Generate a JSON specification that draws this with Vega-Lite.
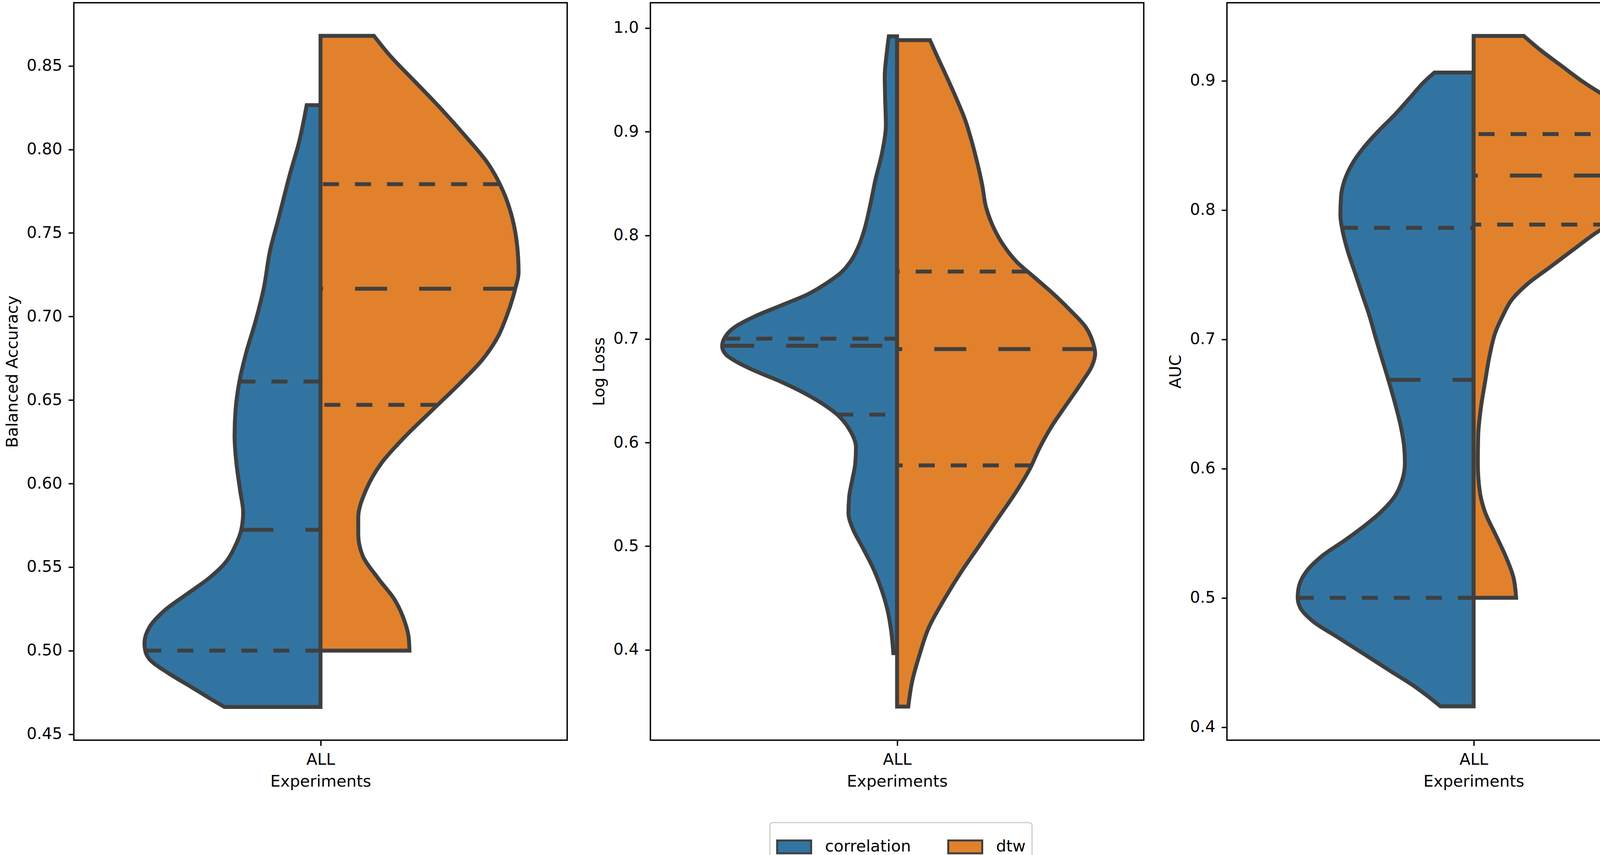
{
  "$schema": "https://vega.github.io/schema/vega-lite/v6.json",
  "background": "white",
  "autosize": {"type": "pad"},
  "padding": {"left": 9, "top": 5, "right": 2, "bottom": 2},
  "datasets": {
    "violins": [
      {"metric": "ba", "group": "correlation", "v": 0.4663, "w": -0.1947},
      {"metric": "ba", "group": "correlation", "v": 0.4702, "w": -0.2174},
      {"metric": "ba", "group": "correlation", "v": 0.4784, "w": -0.2629},
      {"metric": "ba", "group": "correlation", "v": 0.4865, "w": -0.3083},
      {"metric": "ba", "group": "correlation", "v": 0.4947, "w": -0.3462},
      {"metric": "ba", "group": "correlation", "v": 0.5000, "w": -0.3553},
      {"metric": "ba", "group": "correlation", "v": 0.5045, "w": -0.3568},
      {"metric": "ba", "group": "correlation", "v": 0.5143, "w": -0.3462},
      {"metric": "ba", "group": "correlation", "v": 0.5241, "w": -0.3159},
      {"metric": "ba", "group": "correlation", "v": 0.5339, "w": -0.2705},
      {"metric": "ba", "group": "correlation", "v": 0.5436, "w": -0.2250},
      {"metric": "ba", "group": "correlation", "v": 0.5534, "w": -0.1909},
      {"metric": "ba", "group": "correlation", "v": 0.5632, "w": -0.1720},
      {"metric": "ba", "group": "correlation", "v": 0.5723, "w": -0.1606},
      {"metric": "ba", "group": "correlation", "v": 0.5828, "w": -0.1568},
      {"metric": "ba", "group": "correlation", "v": 0.5958, "w": -0.1629},
      {"metric": "ba", "group": "correlation", "v": 0.6122, "w": -0.1705},
      {"metric": "ba", "group": "correlation", "v": 0.6285, "w": -0.1742},
      {"metric": "ba", "group": "correlation", "v": 0.6448, "w": -0.1720},
      {"metric": "ba", "group": "correlation", "v": 0.6611, "w": -0.1644},
      {"metric": "ba", "group": "correlation", "v": 0.6774, "w": -0.1515},
      {"metric": "ba", "group": "correlation", "v": 0.6970, "w": -0.1318},
      {"metric": "ba", "group": "correlation", "v": 0.7166, "w": -0.1152},
      {"metric": "ba", "group": "correlation", "v": 0.7394, "w": -0.1023},
      {"metric": "ba", "group": "correlation", "v": 0.7590, "w": -0.0848},
      {"metric": "ba", "group": "correlation", "v": 0.7851, "w": -0.0621},
      {"metric": "ba", "group": "correlation", "v": 0.8047, "w": -0.0432},
      {"metric": "ba", "group": "correlation", "v": 0.8265, "w": -0.0280},
      {"metric": "ba", "group": "dtw", "v": 0.5000, "w": 0.1803},
      {"metric": "ba", "group": "dtw", "v": 0.5078, "w": 0.1788},
      {"metric": "ba", "group": "dtw", "v": 0.5175, "w": 0.1705},
      {"metric": "ba", "group": "dtw", "v": 0.5306, "w": 0.1500},
      {"metric": "ba", "group": "dtw", "v": 0.5436, "w": 0.1159},
      {"metric": "ba", "group": "dtw", "v": 0.5567, "w": 0.0856},
      {"metric": "ba", "group": "dtw", "v": 0.5697, "w": 0.0765},
      {"metric": "ba", "group": "dtw", "v": 0.5795, "w": 0.0765},
      {"metric": "ba", "group": "dtw", "v": 0.5958, "w": 0.0917},
      {"metric": "ba", "group": "dtw", "v": 0.6122, "w": 0.1235},
      {"metric": "ba", "group": "dtw", "v": 0.6285, "w": 0.1727},
      {"metric": "ba", "group": "dtw", "v": 0.6448, "w": 0.2295},
      {"metric": "ba", "group": "dtw", "v": 0.6611, "w": 0.2864},
      {"metric": "ba", "group": "dtw", "v": 0.6741, "w": 0.3280},
      {"metric": "ba", "group": "dtw", "v": 0.6872, "w": 0.3583},
      {"metric": "ba", "group": "dtw", "v": 0.7002, "w": 0.3773},
      {"metric": "ba", "group": "dtw", "v": 0.7166, "w": 0.3947},
      {"metric": "ba", "group": "dtw", "v": 0.7263, "w": 0.4015},
      {"metric": "ba", "group": "dtw", "v": 0.7427, "w": 0.3985},
      {"metric": "ba", "group": "dtw", "v": 0.7590, "w": 0.3886},
      {"metric": "ba", "group": "dtw", "v": 0.7753, "w": 0.3697},
      {"metric": "ba", "group": "dtw", "v": 0.7916, "w": 0.3394},
      {"metric": "ba", "group": "dtw", "v": 0.8079, "w": 0.2939},
      {"metric": "ba", "group": "dtw", "v": 0.8242, "w": 0.2447},
      {"metric": "ba", "group": "dtw", "v": 0.8405, "w": 0.1917},
      {"metric": "ba", "group": "dtw", "v": 0.8569, "w": 0.1386},
      {"metric": "ba", "group": "dtw", "v": 0.8680, "w": 0.1083},
      {"metric": "ll", "group": "correlation", "v": 0.3968, "w": -0.0076},
      {"metric": "ll", "group": "correlation", "v": 0.4163, "w": -0.0114},
      {"metric": "ll", "group": "correlation", "v": 0.4374, "w": -0.0189},
      {"metric": "ll", "group": "correlation", "v": 0.4585, "w": -0.0318},
      {"metric": "ll", "group": "correlation", "v": 0.4795, "w": -0.0492},
      {"metric": "ll", "group": "correlation", "v": 0.5006, "w": -0.0720},
      {"metric": "ll", "group": "correlation", "v": 0.5164, "w": -0.0894},
      {"metric": "ll", "group": "correlation", "v": 0.5322, "w": -0.0985},
      {"metric": "ll", "group": "correlation", "v": 0.5480, "w": -0.0970},
      {"metric": "ll", "group": "correlation", "v": 0.5638, "w": -0.0909},
      {"metric": "ll", "group": "correlation", "v": 0.5796, "w": -0.0848},
      {"metric": "ll", "group": "correlation", "v": 0.5954, "w": -0.0833},
      {"metric": "ll", "group": "correlation", "v": 0.6112, "w": -0.0947},
      {"metric": "ll", "group": "correlation", "v": 0.6270, "w": -0.1212},
      {"metric": "ll", "group": "correlation", "v": 0.6376, "w": -0.1515},
      {"metric": "ll", "group": "correlation", "v": 0.6481, "w": -0.1894},
      {"metric": "ll", "group": "correlation", "v": 0.6586, "w": -0.2348},
      {"metric": "ll", "group": "correlation", "v": 0.6692, "w": -0.2879},
      {"metric": "ll", "group": "correlation", "v": 0.6771, "w": -0.3220},
      {"metric": "ll", "group": "correlation", "v": 0.6850, "w": -0.3470},
      {"metric": "ll", "group": "correlation", "v": 0.6929, "w": -0.3545},
      {"metric": "ll", "group": "correlation", "v": 0.7008, "w": -0.3500},
      {"metric": "ll", "group": "correlation", "v": 0.7113, "w": -0.3295},
      {"metric": "ll", "group": "correlation", "v": 0.7219, "w": -0.2879},
      {"metric": "ll", "group": "correlation", "v": 0.7324, "w": -0.2348},
      {"metric": "ll", "group": "correlation", "v": 0.7429, "w": -0.1818},
      {"metric": "ll", "group": "correlation", "v": 0.7535, "w": -0.1439},
      {"metric": "ll", "group": "correlation", "v": 0.7640, "w": -0.1136},
      {"metric": "ll", "group": "correlation", "v": 0.7745, "w": -0.0947},
      {"metric": "ll", "group": "correlation", "v": 0.7903, "w": -0.0773},
      {"metric": "ll", "group": "correlation", "v": 0.8061, "w": -0.0659},
      {"metric": "ll", "group": "correlation", "v": 0.8272, "w": -0.0553},
      {"metric": "ll", "group": "correlation", "v": 0.8536, "w": -0.0439},
      {"metric": "ll", "group": "correlation", "v": 0.8799, "w": -0.0303},
      {"metric": "ll", "group": "correlation", "v": 0.9062, "w": -0.0227},
      {"metric": "ll", "group": "correlation", "v": 0.9326, "w": -0.0242},
      {"metric": "ll", "group": "correlation", "v": 0.9536, "w": -0.0250},
      {"metric": "ll", "group": "correlation", "v": 0.9747, "w": -0.0212},
      {"metric": "ll", "group": "correlation", "v": 0.9921, "w": -0.0167},
      {"metric": "ll", "group": "dtw", "v": 0.3452, "w": 0.0227},
      {"metric": "ll", "group": "dtw", "v": 0.3689, "w": 0.0303},
      {"metric": "ll", "group": "dtw", "v": 0.3952, "w": 0.0455},
      {"metric": "ll", "group": "dtw", "v": 0.4216, "w": 0.0644},
      {"metric": "ll", "group": "dtw", "v": 0.4479, "w": 0.0947},
      {"metric": "ll", "group": "dtw", "v": 0.4743, "w": 0.1288},
      {"metric": "ll", "group": "dtw", "v": 0.5006, "w": 0.1667},
      {"metric": "ll", "group": "dtw", "v": 0.5269, "w": 0.2045},
      {"metric": "ll", "group": "dtw", "v": 0.5533, "w": 0.2424},
      {"metric": "ll", "group": "dtw", "v": 0.5744, "w": 0.2689},
      {"metric": "ll", "group": "dtw", "v": 0.5954, "w": 0.2894},
      {"metric": "ll", "group": "dtw", "v": 0.6165, "w": 0.3144},
      {"metric": "ll", "group": "dtw", "v": 0.6376, "w": 0.3447},
      {"metric": "ll", "group": "dtw", "v": 0.6586, "w": 0.3750},
      {"metric": "ll", "group": "dtw", "v": 0.6744, "w": 0.3955},
      {"metric": "ll", "group": "dtw", "v": 0.6860, "w": 0.4015},
      {"metric": "ll", "group": "dtw", "v": 0.6955, "w": 0.3977},
      {"metric": "ll", "group": "dtw", "v": 0.7113, "w": 0.3826},
      {"metric": "ll", "group": "dtw", "v": 0.7271, "w": 0.3523},
      {"metric": "ll", "group": "dtw", "v": 0.7429, "w": 0.3182},
      {"metric": "ll", "group": "dtw", "v": 0.7587, "w": 0.2803},
      {"metric": "ll", "group": "dtw", "v": 0.7745, "w": 0.2424},
      {"metric": "ll", "group": "dtw", "v": 0.7903, "w": 0.2159},
      {"metric": "ll", "group": "dtw", "v": 0.8061, "w": 0.1970},
      {"metric": "ll", "group": "dtw", "v": 0.8272, "w": 0.1803},
      {"metric": "ll", "group": "dtw", "v": 0.8483, "w": 0.1727},
      {"metric": "ll", "group": "dtw", "v": 0.8694, "w": 0.1629},
      {"metric": "ll", "group": "dtw", "v": 0.8904, "w": 0.1515},
      {"metric": "ll", "group": "dtw", "v": 0.9115, "w": 0.1379},
      {"metric": "ll", "group": "dtw", "v": 0.9326, "w": 0.1197},
      {"metric": "ll", "group": "dtw", "v": 0.9536, "w": 0.1000},
      {"metric": "ll", "group": "dtw", "v": 0.9747, "w": 0.0795},
      {"metric": "ll", "group": "dtw", "v": 0.9884, "w": 0.0667},
      {"metric": "auc", "group": "correlation", "v": 0.4160, "w": -0.0669},
      {"metric": "auc", "group": "correlation", "v": 0.4228, "w": -0.0891},
      {"metric": "auc", "group": "correlation", "v": 0.4312, "w": -0.1186},
      {"metric": "auc", "group": "correlation", "v": 0.4438, "w": -0.1704},
      {"metric": "auc", "group": "correlation", "v": 0.4565, "w": -0.2221},
      {"metric": "auc", "group": "correlation", "v": 0.4691, "w": -0.2738},
      {"metric": "auc", "group": "correlation", "v": 0.4818, "w": -0.3256},
      {"metric": "auc", "group": "correlation", "v": 0.4923, "w": -0.3514},
      {"metric": "auc", "group": "correlation", "v": 0.5000, "w": -0.3566},
      {"metric": "auc", "group": "correlation", "v": 0.5071, "w": -0.3551},
      {"metric": "auc", "group": "correlation", "v": 0.5197, "w": -0.3404},
      {"metric": "auc", "group": "correlation", "v": 0.5324, "w": -0.3071},
      {"metric": "auc", "group": "correlation", "v": 0.5450, "w": -0.2591},
      {"metric": "auc", "group": "correlation", "v": 0.5577, "w": -0.2147},
      {"metric": "auc", "group": "correlation", "v": 0.5661, "w": -0.1888},
      {"metric": "auc", "group": "correlation", "v": 0.5788, "w": -0.1593},
      {"metric": "auc", "group": "correlation", "v": 0.5914, "w": -0.1445},
      {"metric": "auc", "group": "correlation", "v": 0.6040, "w": -0.1393},
      {"metric": "auc", "group": "correlation", "v": 0.6167, "w": -0.1408},
      {"metric": "auc", "group": "correlation", "v": 0.6336, "w": -0.1482},
      {"metric": "auc", "group": "correlation", "v": 0.6504, "w": -0.1593},
      {"metric": "auc", "group": "correlation", "v": 0.6673, "w": -0.1718},
      {"metric": "auc", "group": "correlation", "v": 0.6841, "w": -0.1851},
      {"metric": "auc", "group": "correlation", "v": 0.7010, "w": -0.1984},
      {"metric": "auc", "group": "correlation", "v": 0.7179, "w": -0.2110},
      {"metric": "auc", "group": "correlation", "v": 0.7347, "w": -0.2258},
      {"metric": "auc", "group": "correlation", "v": 0.7516, "w": -0.2406},
      {"metric": "auc", "group": "correlation", "v": 0.7685, "w": -0.2554},
      {"metric": "auc", "group": "correlation", "v": 0.7853, "w": -0.2664},
      {"metric": "auc", "group": "correlation", "v": 0.7959, "w": -0.2701},
      {"metric": "auc", "group": "correlation", "v": 0.8106, "w": -0.2687},
      {"metric": "auc", "group": "correlation", "v": 0.8233, "w": -0.2613},
      {"metric": "auc", "group": "correlation", "v": 0.8359, "w": -0.2458},
      {"metric": "auc", "group": "correlation", "v": 0.8486, "w": -0.2221},
      {"metric": "auc", "group": "correlation", "v": 0.8612, "w": -0.1925},
      {"metric": "auc", "group": "correlation", "v": 0.8739, "w": -0.1593},
      {"metric": "auc", "group": "correlation", "v": 0.8865, "w": -0.1297},
      {"metric": "auc", "group": "correlation", "v": 0.8992, "w": -0.1001},
      {"metric": "auc", "group": "correlation", "v": 0.9063, "w": -0.0795},
      {"metric": "auc", "group": "dtw", "v": 0.5000, "w": 0.0861},
      {"metric": "auc", "group": "dtw", "v": 0.5155, "w": 0.0809},
      {"metric": "auc", "group": "dtw", "v": 0.5324, "w": 0.0647},
      {"metric": "auc", "group": "dtw", "v": 0.5492, "w": 0.0440},
      {"metric": "auc", "group": "dtw", "v": 0.5661, "w": 0.0233},
      {"metric": "auc", "group": "dtw", "v": 0.5830, "w": 0.0122},
      {"metric": "auc", "group": "dtw", "v": 0.6040, "w": 0.0085},
      {"metric": "auc", "group": "dtw", "v": 0.6251, "w": 0.0092},
      {"metric": "auc", "group": "dtw", "v": 0.6462, "w": 0.0144},
      {"metric": "auc", "group": "dtw", "v": 0.6673, "w": 0.0233},
      {"metric": "auc", "group": "dtw", "v": 0.6884, "w": 0.0329},
      {"metric": "auc", "group": "dtw", "v": 0.7052, "w": 0.0440},
      {"metric": "auc", "group": "dtw", "v": 0.7179, "w": 0.0588},
      {"metric": "auc", "group": "dtw", "v": 0.7305, "w": 0.0772},
      {"metric": "auc", "group": "dtw", "v": 0.7432, "w": 0.1105},
      {"metric": "auc", "group": "dtw", "v": 0.7558, "w": 0.1548},
      {"metric": "auc", "group": "dtw", "v": 0.7685, "w": 0.1992},
      {"metric": "auc", "group": "dtw", "v": 0.7811, "w": 0.2435},
      {"metric": "auc", "group": "dtw", "v": 0.7938, "w": 0.2953},
      {"metric": "auc", "group": "dtw", "v": 0.8064, "w": 0.3396},
      {"metric": "auc", "group": "dtw", "v": 0.8191, "w": 0.3803},
      {"metric": "auc", "group": "dtw", "v": 0.8275, "w": 0.3987},
      {"metric": "auc", "group": "dtw", "v": 0.8359, "w": 0.4024},
      {"metric": "auc", "group": "dtw", "v": 0.8486, "w": 0.3899},
      {"metric": "auc", "group": "dtw", "v": 0.8612, "w": 0.3618},
      {"metric": "auc", "group": "dtw", "v": 0.8739, "w": 0.3211},
      {"metric": "auc", "group": "dtw", "v": 0.8865, "w": 0.2731},
      {"metric": "auc", "group": "dtw", "v": 0.8992, "w": 0.2214},
      {"metric": "auc", "group": "dtw", "v": 0.9118, "w": 0.1770},
      {"metric": "auc", "group": "dtw", "v": 0.9245, "w": 0.1327},
      {"metric": "auc", "group": "dtw", "v": 0.9346, "w": 0.1016}
    ],
    "quartiles": [
      {"metric": "ba", "group": "correlation", "stat": "q1", "v": 0.5000, "w": -0.3553},
      {"metric": "ba", "group": "correlation", "stat": "median", "v": 0.5723, "w": -0.1606},
      {"metric": "ba", "group": "correlation", "stat": "q3", "v": 0.6611, "w": -0.1644},
      {"metric": "ba", "group": "dtw", "stat": "q1", "v": 0.6471, "w": 0.235},
      {"metric": "ba", "group": "dtw", "stat": "median", "v": 0.7166, "w": 0.3947},
      {"metric": "ba", "group": "dtw", "stat": "q3", "v": 0.7792, "w": 0.362},
      {"metric": "ll", "group": "correlation", "stat": "q1", "v": 0.6270, "w": -0.1212},
      {"metric": "ll", "group": "correlation", "stat": "median", "v": 0.6934, "w": -0.3545},
      {"metric": "ll", "group": "correlation", "stat": "q3", "v": 0.7003, "w": -0.3503},
      {"metric": "ll", "group": "dtw", "stat": "q1", "v": 0.5780, "w": 0.271},
      {"metric": "ll", "group": "dtw", "stat": "median", "v": 0.6902, "w": 0.400},
      {"metric": "ll", "group": "dtw", "stat": "q3", "v": 0.7651, "w": 0.265},
      {"metric": "auc", "group": "correlation", "stat": "q1", "v": 0.5000, "w": -0.3566},
      {"metric": "auc", "group": "correlation", "stat": "median", "v": 0.6686, "w": -0.1728},
      {"metric": "auc", "group": "correlation", "stat": "q3", "v": 0.7862, "w": -0.2668},
      {"metric": "auc", "group": "dtw", "stat": "q1", "v": 0.7887, "w": 0.275},
      {"metric": "auc", "group": "dtw", "stat": "median", "v": 0.8266, "w": 0.398},
      {"metric": "auc", "group": "dtw", "stat": "q3", "v": 0.8587, "w": 0.367}
    ]
  },
  "spacing": 213,
  "bounds": "flush",
  "hconcat": [
    {
      "width": 1263,
      "height": 1888,
      "layer": [
        {
          "data": {"name": "violins"},
          "transform": [{"filter": "datum.metric === 'ba'"}],
          "mark": {"type": "area", "orient": "horizontal", "interpolate": "monotone", "stroke": "#3f3f3f", "strokeWidth": 10, "opacity": 1},
          "encoding": {
            "y": {"field": "v", "type": "quantitative", "scale": {"domain": [0.4464, 0.8878], "nice": false, "zero": false},
                  "axis": {"title": "Balanced Accuracy", "values": [0.45, 0.5, 0.55, 0.6, 0.65, 0.7, 0.75, 0.8, 0.85], "format": ".2f"}},
            "x": {"field": "w", "type": "quantitative", "scale": {"domain": [-0.5, 0.5], "nice": false, "zero": false},
                  "axis": {"title": "Experiments", "values": [0], "labelExpr": "'ALL'"}},
            "x2": {"datum": 0},
            "fill": {"field": "group", "type": "nominal", "scale": {"domain": ["correlation", "dtw"], "range": ["#3274a1", "#e1812c"]}, "legend": {"title": null}}
          }
        },
        {
          "data": {"name": "quartiles"},
          "transform": [{"filter": "datum.metric === 'ba'"}],
          "mark": {"type": "rule", "color": "#3f3f3f", "strokeWidth": 10},
          "encoding": {
            "y": {"field": "v", "type": "quantitative"},
            "x": {"field": "w", "type": "quantitative"},
            "x2": {"datum": 0},
            "strokeDash": {"field": "stat", "type": "nominal", "scale": {"domain": ["q1", "median", "q3"], "range": [[41, 41], [82, 82], [41, 41]]}, "legend": null}
          }
        }
      ]
    },
    {
      "width": 1263,
      "height": 1888,
      "layer": [
        {
          "data": {"name": "violins"},
          "transform": [{"filter": "datum.metric === 'll'"}],
          "mark": {"type": "area", "orient": "horizontal", "interpolate": "monotone", "stroke": "#3f3f3f", "strokeWidth": 10, "opacity": 1},
          "encoding": {
            "y": {"field": "v", "type": "quantitative", "scale": {"domain": [0.3128, 1.0245], "nice": false, "zero": false},
                  "axis": {"title": "Log Loss", "values": [0.4, 0.5, 0.6, 0.7, 0.8, 0.9, 1.0], "format": ".1f"}},
            "x": {"field": "w", "type": "quantitative", "scale": {"domain": [-0.5, 0.5], "nice": false, "zero": false},
                  "axis": {"title": "Experiments", "values": [0], "labelExpr": "'ALL'"}},
            "x2": {"datum": 0},
            "fill": {"field": "group", "type": "nominal", "scale": {"domain": ["correlation", "dtw"], "range": ["#3274a1", "#e1812c"]}, "legend": {"title": null}}
          }
        },
        {
          "data": {"name": "quartiles"},
          "transform": [{"filter": "datum.metric === 'll'"}],
          "mark": {"type": "rule", "color": "#3f3f3f", "strokeWidth": 10},
          "encoding": {
            "y": {"field": "v", "type": "quantitative"},
            "x": {"field": "w", "type": "quantitative"},
            "x2": {"datum": 0},
            "strokeDash": {"field": "stat", "type": "nominal", "scale": {"domain": ["q1", "median", "q3"], "range": [[41, 41], [82, 82], [41, 41]]}, "legend": null}
          }
        }
      ]
    },
    {
      "width": 1263,
      "height": 1888,
      "layer": [
        {
          "data": {"name": "violins"},
          "transform": [{"filter": "datum.metric === 'auc'"}],
          "mark": {"type": "area", "orient": "horizontal", "interpolate": "monotone", "stroke": "#3f3f3f", "strokeWidth": 10, "opacity": 1},
          "encoding": {
            "y": {"field": "v", "type": "quantitative", "scale": {"domain": [0.3899, 0.9603], "nice": false, "zero": false},
                  "axis": {"title": "AUC", "values": [0.4, 0.5, 0.6, 0.7, 0.8, 0.9], "format": ".1f"}},
            "x": {"field": "w", "type": "quantitative", "scale": {"domain": [-0.5, 0.5], "nice": false, "zero": false},
                  "axis": {"title": "Experiments", "values": [0], "labelExpr": "'ALL'"}},
            "x2": {"datum": 0},
            "fill": {"field": "group", "type": "nominal", "scale": {"domain": ["correlation", "dtw"], "range": ["#3274a1", "#e1812c"]}, "legend": {"title": null}}
          }
        },
        {
          "data": {"name": "quartiles"},
          "transform": [{"filter": "datum.metric === 'auc'"}],
          "mark": {"type": "rule", "color": "#3f3f3f", "strokeWidth": 10},
          "encoding": {
            "y": {"field": "v", "type": "quantitative"},
            "x": {"field": "w", "type": "quantitative"},
            "x2": {"datum": 0},
            "strokeDash": {"field": "stat", "type": "nominal", "scale": {"domain": ["q1", "median", "q3"], "range": [[41, 41], [82, 82], [41, 41]]}, "legend": null}
          }
        }
      ]
    }
  ],
  "resolve": {"scale": {"fill": "shared", "strokeDash": "shared"}, "legend": {"fill": "shared"}},
  "config": {
    "font": "DejaVu Sans",
    "view": {"stroke": "black", "strokeWidth": 3.5},
    "axis": {
      "labelFont": "DejaVu Sans", "titleFont": "DejaVu Sans",
      "labelFontSize": 41, "titleFontSize": 41, "titleFontWeight": "normal",
      "labelColor": "black", "titleColor": "black",
      "tickColor": "black", "tickWidth": 3.5, "tickSize": 14,
      "domain": false, "grid": false,
      "labelPadding": 16, "titlePadding": 16
    },
    "axisY": {"titlePadding": 14},
    "legend": {
      "orient": "none", "legendX": 1782, "legendY": 2099,
      "direction": "horizontal", "columns": 2,
      "symbolType": "M-1,-0.38H1V0.38H-1Z", "symbolSize": 7569,
      "symbolStrokeWidth": 5, "symbolStrokeColor": "#3f3f3f", "symbolOpacity": 1,
      "labelFont": "DejaVu Sans", "labelFontSize": 41, "labelColor": "black", "labelLimit": 500,
      "labelOffset": 33, "columnPadding": 85, "padding": 16,
      "strokeColor": "#cccccc", "strokeWidth": 3, "cornerRadius": 8, "fillColor": "white"
    }
  }
}
